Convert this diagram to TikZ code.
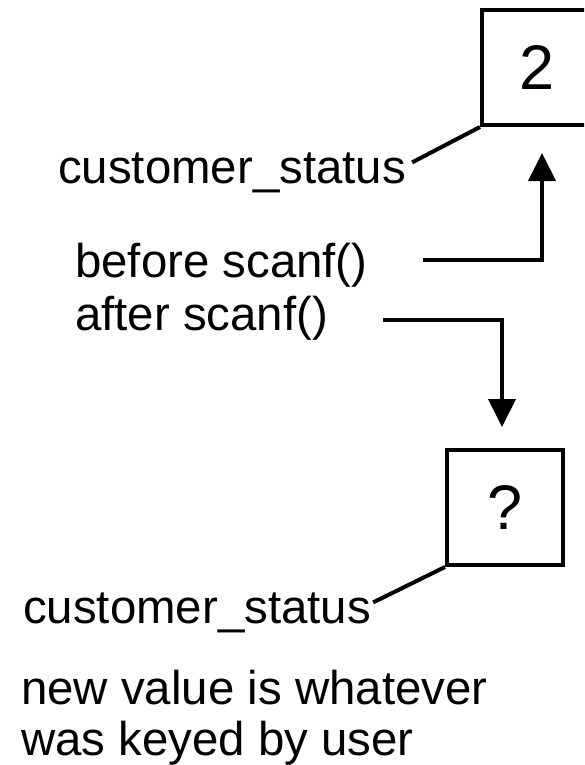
\documentclass[tikz,border=0pt]{standalone}
\usepackage{fontspec}
\setmainfont{Liberation Sans}
\usetikzlibrary{arrows.meta,calc}
\begin{document}
\begin{tikzpicture}[x=1pt,y=-1pt,
  lbl/.style={anchor=base west,inner sep=0pt,font=\fontsize{47.4}{53}\selectfont},
  valbox/.style={draw,line width=4pt,inner sep=0pt,font=\fontsize{63}{70}\selectfont},
  conn/.style={line width=4pt},
  arr/.style={line width=4pt,-{Triangle[length=28pt,width=27pt]}}]
\useasboundingbox (0,0) rectangle (584,765);
\clip (0,0) rectangle (584,765);
% boxes
\node[valbox,minimum width=110pt,minimum height=115pt] (boxA) at (537,67.5) {2};
\node[valbox,minimum width=116pt,minimum height=115pt] (boxB) at (505,507.5) {?};
% labels
\node[lbl] (cs1) at (58,183) {customer\_status};
\node[lbl] (before) at (75,277) {before scanf()};
\node[lbl] (after) at (75,330) {after scanf()};
\node[lbl] (cs2) at (23,623) {customer\_status};
\node[lbl] (note1) at (21,704) {new value is whatever};
\node[lbl] (note2) at (21,755) {was keyed by user};
% connector coordinates
\coordinate (upStart) at (423,260);
\coordinate (upTip) at (542,153);
\coordinate (downStart) at (383,320);
\coordinate (downTip) at (502,427);
% connectors
\draw[conn] ($(cs1.east)+(6,-10)$) -- (boxA.south west);
\draw[conn] ($(cs2.east)+(2,-10)$) -- (boxB.south west);
\draw[arr] (upStart) -| (upTip);
\draw[arr] (downStart) -| (downTip);
\end{tikzpicture}
\end{document}
